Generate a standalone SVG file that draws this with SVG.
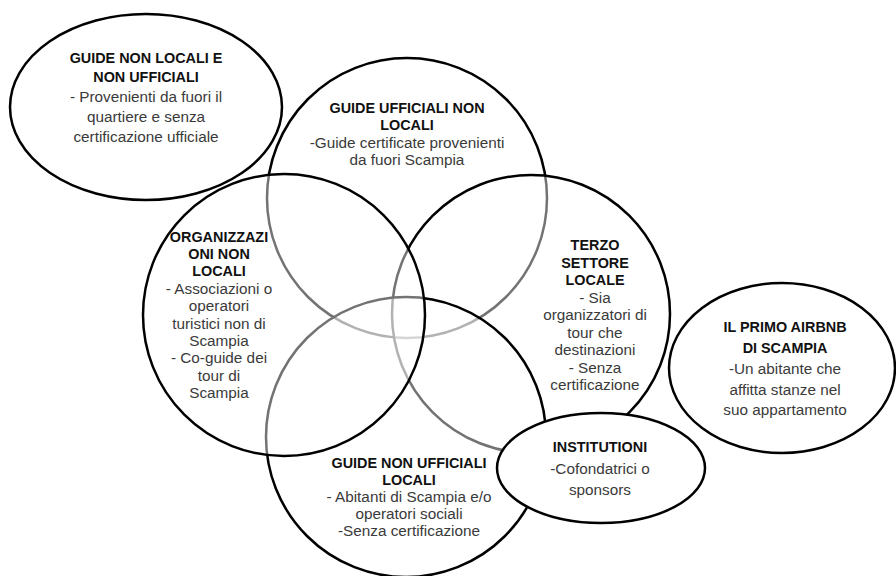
<svg xmlns="http://www.w3.org/2000/svg" width="896" height="576" viewBox="0 0 896 576">
<style>
.shape{stroke:#000;stroke-width:2.5}
.solid{fill:#fff}
.veil{fill:#fff;fill-opacity:0.45}
text{font-family:"Liberation Sans",Arial,sans-serif;text-anchor:middle}
.t{font-weight:bold;font-size:14.4px;fill:#111}
.b{font-size:15.3px;fill:#3a3a3a}
</style>
<rect width="896" height="576" fill="#fff"/>
<g id="guide-non-locali-non-ufficiali">
<ellipse class="shape solid" cx="146" cy="107" rx="136" ry="93"/>
<text class="t" x="146" y="63">GUIDE NON LOCALI E</text>
<text class="t" x="146" y="82">NON UFFICIALI</text>
<text class="b" x="146" y="102">- Provenienti da fuori il</text>
<text class="b" x="146" y="122">quartiere e senza</text>
<text class="b" x="146" y="142">certificazione ufficiale</text>
</g>
<g id="guide-ufficiali-non-locali">
<circle class="shape veil" cx="407" cy="198" r="140"/>
<text class="t" x="407" y="113">GUIDE UFFICIALI NON</text>
<text class="t" x="407" y="130">LOCALI</text>
<text class="b" x="407" y="148">-Guide certificate provenienti</text>
<text class="b" x="407" y="165">da fuori Scampia</text>
</g>
<g id="terzo-settore-locale">
<circle class="shape veil" cx="531" cy="314" r="139"/>
<text class="t" x="595" y="250">TERZO</text>
<text class="t" x="595" y="267.5">SETTORE</text>
<text class="t" x="595" y="285">LOCALE</text>
<text class="b" x="595" y="302.5">- Sia</text>
<text class="b" x="595" y="320">organizzatori di</text>
<text class="b" x="595" y="337.5">tour che</text>
<text class="b" x="595" y="355">destinazioni</text>
<text class="b" x="595" y="372.5">- Senza</text>
<text class="b" x="595" y="390">certificazione</text>
</g>
<g id="guide-non-ufficiali-locali">
<circle class="shape veil" cx="406" cy="437" r="140"/>
<text class="t" x="409" y="468">GUIDE NON UFFICIALI</text>
<text class="t" x="409" y="485">LOCALI</text>
<text class="b" x="409" y="502">- Abitanti di Scampia e/o</text>
<text class="b" x="409" y="519">operatori sociali</text>
<text class="b" x="409" y="536">-Senza certificazione</text>
</g>
<g id="organizzazioni-non-locali">
<circle class="shape veil" cx="284" cy="315" r="141"/>
<text class="t" x="219" y="241.5">ORGANIZZAZI</text>
<text class="t" x="219" y="258.9">ONI NON</text>
<text class="t" x="219" y="276.3">LOCALI</text>
<text class="b" x="219" y="293.7">- Associazioni o</text>
<text class="b" x="219" y="311.1">operatori</text>
<text class="b" x="219" y="328.5">turistici non di</text>
<text class="b" x="219" y="345.9">Scampia</text>
<text class="b" x="219" y="363.3">- Co-guide dei</text>
<text class="b" x="219" y="380.7">tour di</text>
<text class="b" x="219" y="398.1">Scampia</text>
</g>
<g id="institutioni">
<ellipse class="shape solid" cx="601" cy="468" rx="104" ry="55"/>
<text class="t" x="600" y="452">INSTITUTIONI</text>
<text class="b" x="600" y="474">-Cofondatrici o</text>
<text class="b" x="600" y="495">sponsors</text>
</g>
<g id="primo-airbnb">
<ellipse class="shape solid" cx="782" cy="368" rx="113" ry="85"/>
<text class="t" x="785" y="332">IL PRIMO AIRBNB</text>
<text class="t" x="785" y="352.5">DI SCAMPIA</text>
<text class="b" x="785" y="374">-Un abitante che</text>
<text class="b" x="785" y="394.5">affitta stanze nel</text>
<text class="b" x="785" y="415">suo appartamento</text>
</g>
</svg>
